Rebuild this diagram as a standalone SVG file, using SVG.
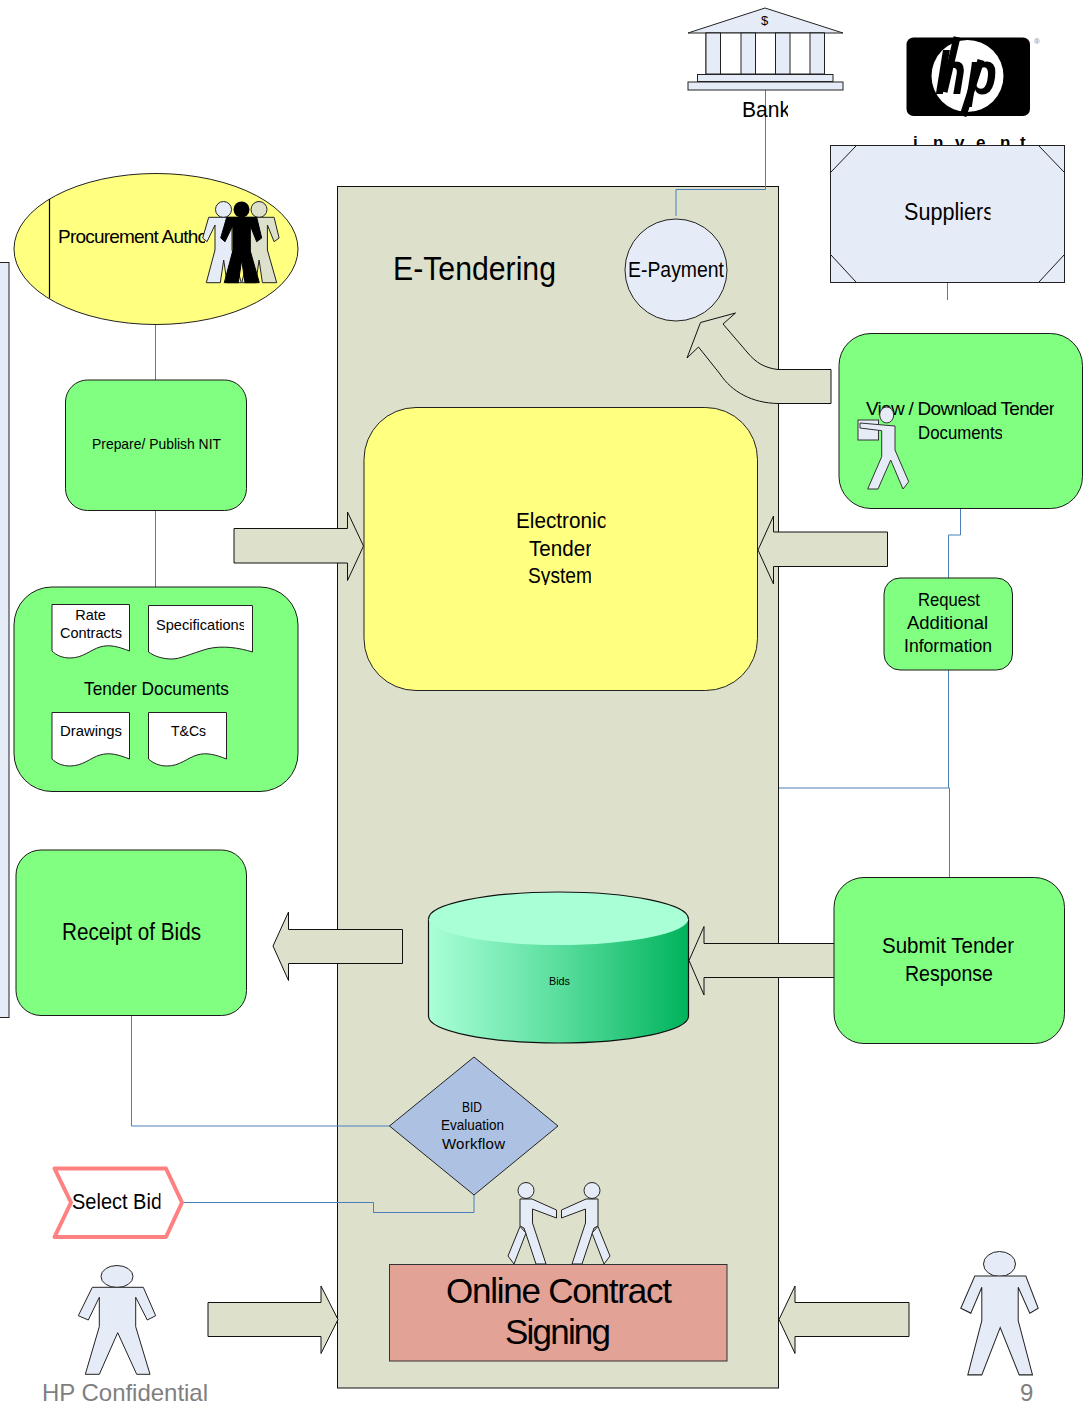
<svg xmlns="http://www.w3.org/2000/svg" width="1090" height="1405" viewBox="0 0 1090 1405">
<style>
text{font-family:"Liberation Sans",Arial,sans-serif;fill:#000}
.s{stroke:#1a1a1a;stroke-width:1}
.g{fill:#80ff80;stroke:#1a1a1a;stroke-width:1}
.b{fill:#e6ecf7;stroke:#222;stroke-width:1}
.a{fill:#dde1cb;stroke:#111;stroke-width:1}
.c{fill:none;stroke:#4a7ebb;stroke-width:1}
.d{fill:#fff;stroke:#222;stroke-width:1}
.n{vector-effect:non-scaling-stroke}
</style>
<defs>
<linearGradient id="cyl" x1="0" x2="1" y1="0" y2="0">
<stop offset="0" stop-color="#aaffd8"/><stop offset=".5" stop-color="#5ade9e"/><stop offset="1" stop-color="#00b35c"/>
</linearGradient>
<polygon id="team" points="226.7,217.3 256.7,217.3 261.7,238 256.7,241.7 250,225 250,250 259.3,282.7 245,282.7 241.7,260 238.3,282.7 224.3,282.7 233,250 233,225 225,241.7 220.7,238"/>
<polygon id="actor" points="92.3,1287.3 143.3,1287.3 155.7,1315.7 147.3,1320 135.7,1297.3 135.7,1326.7 150,1374.3 136.7,1374.3 117.7,1332.7 99.3,1374.3 85.3,1374.3 99.3,1326.7 99.3,1297.3 88.3,1320 78.3,1315.7"/>
<clipPath id="c1"><rect x="740" y="95" width="48" height="30"/></clipPath>
<clipPath id="c2"><rect x="900" y="195" width="90.500" height="35"/></clipPath>
<clipPath id="c3"><rect x="50" y="220" width="155" height="30"/></clipPath>
<clipPath id="c4"><rect x="510" y="505" width="95.500" height="25"/></clipPath>
<clipPath id="c5"><rect x="510" y="533" width="81" height="52"/></clipPath>
<clipPath id="c6"><rect x="860" y="395" width="194" height="24"/></clipPath>
<clipPath id="c7"><rect x="910" y="420" width="92" height="24"/></clipPath>
<clipPath id="c8"><rect x="900" y="588" width="92" height="70"/></clipPath>
<clipPath id="c9"><rect x="150" y="615" width="94" height="22"/></clipPath>
<clipPath id="c10"><rect x="60" y="915" width="141" height="32"/></clipPath>
<clipPath id="c11"><rect x="875" y="930" width="139" height="30"/></clipPath>
<clipPath id="c12"><rect x="900" y="960" width="93" height="30"/></clipPath>
<clipPath id="c13"><rect x="540" y="970" width="30" height="20"/></clipPath>
<clipPath id="c14"><rect x="440" y="1098" width="42" height="18"/></clipPath>
<clipPath id="c15"><rect x="440" y="1117" width="64" height="18"/></clipPath>
<clipPath id="c16"><rect x="70" y="1188" width="90.500" height="28"/></clipPath>
<clipPath id="c17"><rect x="85" y="434" width="136" height="20"/></clipPath>
<clipPath id="c18"><rect x="910" y="133" width="120" height="13"/></clipPath>
</defs>

<rect id="left-panel" x="-5" y="262.500" width="14" height="755" class="b"/>
<g id="etendering-panel">
<rect x="337.500" y="186.500" width="441" height="1201.500" fill="#dde1cb" stroke="#111"/>
<text x="393" y="280" font-size="34" textLength="163" lengthAdjust="spacingAndGlyphs">E-Tendering</text>
</g>

<g id="connectors">
<path class="c" d="M765.500 90V189.500H676V216"/>
<path class="c" d="M947.500 282V300"/>
<path class="c" d="M155.500 325V380"/>
<path class="c" d="M155.500 510V587"/>
<path class="c" d="M960.500 508V535H948.500V578"/>
<path class="c" d="M948.500 670V788H779"/>
<path class="c" d="M948.500 788H949.500V877"/>
<path class="c" d="M131.500 1015V1126H390"/>
<path class="c" d="M182 1202.500H373.500V1212.500H474V1195"/>
</g>

<g id="bank">
<polygon class="b" points="688,33 765,8 843,33"/>
<rect class="d" x="706" y="33" width="118" height="41"/>
<rect class="b" x="706" y="33" width="14.500" height="41"/>
<rect class="b" x="741" y="33" width="14.500" height="41"/>
<rect class="b" x="775.500" y="33" width="14.500" height="41"/>
<rect class="b" x="810" y="33" width="14.500" height="41"/>
<rect class="b" x="697.500" y="74.500" width="135.500" height="7"/>
<rect class="b" x="688" y="82" width="155" height="8"/>
<text x="764.500" y="25" font-size="13" text-anchor="middle">$</text>
<text x="742" y="117" font-size="22" textLength="48" lengthAdjust="spacingAndGlyphs" clip-path="url(#c1)">Bank</text>
</g>

<g id="hp-logo">
<rect x="906.500" y="37.500" width="123.500" height="78.500" rx="7" fill="#000"/>
<circle cx="967.500" cy="76" r="36" fill="#fff"/>
<text x="935" y="94" font-size="62" font-weight="bold" font-style="italic" textLength="62" lengthAdjust="spacingAndGlyphs">hp</text>
<path d="M957 37L944 92M981 60L963 116" stroke="#000" stroke-width="7" fill="none"/>
<text x="1037" y="44" font-size="8" fill="#777" text-anchor="middle" style="fill:#888">®</text>
<text y="148" font-size="17" font-weight="bold" x="913 933 955 976 1000 1020" clip-path="url(#c18)">invent</text>
</g>

<g id="suppliers">
<rect class="b" x="830.500" y="145.500" width="234" height="137"/>
<path class="s" fill="none" d="M856 146L831 172M1039 146L1064 172M831 255L856 282M1039 282L1064 255"/>
<text x="904" y="220" font-size="23" textLength="90" lengthAdjust="spacingAndGlyphs" clip-path="url(#c2)">Suppliers</text>
</g>

<g id="procurement-authority">
<ellipse cx="156" cy="249" rx="142" ry="75.500" fill="#ffff80" stroke="#222"/>
<path d="M49.500 199V298" stroke="#000" stroke-width="1.200"/>
<text x="58" y="243" font-size="19" textLength="150" lengthAdjust="spacing" clip-path="url(#c3)">Procurement Autho</text>
<circle cx="259" cy="209.500" r="8" fill="#dde1cb" stroke="#222"/>
<use href="#team" x="17.400" fill="#dde1cb" stroke="#222"/>
<circle cx="223.500" cy="209.500" r="8" fill="#e6ecf7" stroke="#222"/>
<use href="#team" x="-18" fill="#e6ecf7" stroke="#222"/>
<circle cx="241.500" cy="209.500" r="8" fill="#000"/>
<use href="#team" fill="#000" stroke="#000"/>
</g>

<g id="prepare-publish-nit">
<rect class="g" x="65.500" y="380" width="181" height="130.500" rx="22"/>
<text x="92" y="449" font-size="15" textLength="129" lengthAdjust="spacingAndGlyphs" clip-path="url(#c17)">Prepare/ Publish NIT</text>
</g>

<g id="tender-documents">
<rect class="g" x="14" y="587" width="284" height="204.500" rx="38"/>
<path class="d" d="M52 604.500H129.500V651C119 647 110 644 100 647C90 650 83 658 70 658C62 658 56 655 52 651Z"/>
<path class="d" d="M148.500 605.500H252.500V652C240 648 222 645 207 649C190 654 180 659 172 659C162 659 154 656 148.500 652Z"/>
<path class="d" d="M52 712.500H129.500V759C119 755 110 752 100 755C90 758 83 766 70 766C62 766 56 763 52 759Z"/>
<path class="d" d="M148.500 712.500H226.500V759C216 755 207 752 197 755C187 758 180 766 167 766C159 766 153 763 148.500 759Z"/>
<text x="90.500" y="620" font-size="14.500" text-anchor="middle">Rate</text>
<text x="60" y="638" font-size="15" textLength="62" lengthAdjust="spacingAndGlyphs">Contracts</text>
<text x="156" y="630" font-size="15" textLength="90" lengthAdjust="spacingAndGlyphs" clip-path="url(#c9)">Specifications</text>
<text x="84" y="695" font-size="19" textLength="145" lengthAdjust="spacingAndGlyphs">Tender Documents</text>
<text x="60" y="736" font-size="15.500" textLength="62" lengthAdjust="spacingAndGlyphs">Drawings</text>
<text x="171" y="736" font-size="15.500" textLength="35" lengthAdjust="spacingAndGlyphs">T&amp;Cs</text>
</g>

<g id="receipt-of-bids">
<rect class="g" x="16" y="850" width="230.500" height="165.500" rx="25"/>
<text x="62" y="940" font-size="23" textLength="139" lengthAdjust="spacingAndGlyphs" clip-path="url(#c10)">Receipt of Bids</text>
</g>

<g id="arrows">
<polygon class="a" points="234,528.500 347.500,528.500 347.500,512 363.500,546 347.500,580.500 347.500,563 234,563"/>
<polygon class="a" points="887.500,532 773.500,532 773.500,516 758,550 773.500,584 773.500,566.500 887.500,566.500"/>
<polygon class="a" points="402.500,929.500 288.500,929.500 288.500,912 273,946 288.500,980.500 288.500,963.500 402.500,963.500"/>
<polygon class="a" points="845,943.500 704,943.500 704,926.500 689,960.500 704,995 704,977.500 845,977.500"/>
<polygon class="a" points="208,1302.500 321,1302.500 321,1286 338,1319.500 321,1353.500 321,1336.500 208,1336.500"/>
<polygon class="a" points="909,1302.500 795,1302.500 795,1286 779,1319.500 795,1353.500 795,1336.500 909,1336.500"/>
<path class="a" d="M831 369.500H778C765 368 756 363 747 352L723 324L735.500 313L700.500 322.500L687 358L698.500 347L720 374C732 392 752 403 778 403.500H831Z"/>
</g>

<g id="e-payment">
<circle cx="676" cy="270" r="51" fill="#e6ecf7" stroke="#222"/>
<text x="628" y="277" font-size="22" textLength="96" lengthAdjust="spacingAndGlyphs">E-Payment</text>
</g>

<g id="electronic-tender-system">
<rect x="364" y="407.500" width="393.500" height="283" rx="52" fill="#ffff80" stroke="#222"/>
<text x="516" y="528" font-size="22" textLength="91" lengthAdjust="spacingAndGlyphs" clip-path="url(#c4)">Electronic</text>
<text x="529" y="556" font-size="22" textLength="63" lengthAdjust="spacingAndGlyphs" clip-path="url(#c5)">Tender</text>
<text x="528" y="583" font-size="22" textLength="64" lengthAdjust="spacingAndGlyphs" clip-path="url(#c5)">System</text>
</g>

<g id="view-download">
<rect class="g" x="839" y="333.500" width="243.500" height="175" rx="32"/>
<text x="866" y="415" font-size="19" textLength="189" lengthAdjust="spacing" clip-path="url(#c6)">View / Download Tender</text>
<text x="918" y="439" font-size="19" textLength="85" lengthAdjust="spacingAndGlyphs" clip-path="url(#c7)">Documents</text>
<rect x="858" y="420" width="20.500" height="20" fill="#e6ecf7" stroke="#333"/>
<polygon points="860,423 895,426 895,450 908.700,481.700 903,489 890.700,460 878,489 867.700,489 881.700,456.700 881.700,430.700 860,428" fill="#e6ecf7" stroke="#333"/>
<ellipse cx="886.700" cy="415" rx="7" ry="8" fill="#e6ecf7" stroke="#333"/>
</g>

<g id="request-info">
<rect class="g" x="884" y="578" width="128.500" height="92" rx="16"/>
<text x="918" y="606" font-size="18.500" textLength="62" lengthAdjust="spacingAndGlyphs">Request</text>
<text x="907" y="629" font-size="18.500" textLength="81" lengthAdjust="spacingAndGlyphs" clip-path="url(#c8)">Additional</text>
<text x="904" y="652" font-size="18.500" textLength="88" lengthAdjust="spacingAndGlyphs" clip-path="url(#c8)">Information</text>
</g>

<g id="bids-db">
<path d="M428.500 919V1016C428.500 1031 487 1043 558.500 1043C630 1043 688.500 1031 688.500 1016V919Z" fill="url(#cyl)" stroke="#111" stroke-width="1.200"/>
<ellipse cx="558.500" cy="918.500" rx="130" ry="26.500" fill="#a9ffd6"/>
<path d="M428.500 919C428.500 904 487 892 558.500 892C630 892 688.500 904 688.500 919" fill="none" stroke="#111" stroke-width="1.200"/>
<text x="549" y="985" font-size="11" textLength="21" lengthAdjust="spacingAndGlyphs" clip-path="url(#c13)">Bids</text>
</g>

<g id="submit-response">
<rect class="g" x="834" y="877.500" width="230.500" height="166" rx="30"/>
<text x="882" y="953" font-size="22.500" textLength="132" lengthAdjust="spacingAndGlyphs" clip-path="url(#c11)">Submit Tender</text>
<text x="905" y="981" font-size="22.500" textLength="88" lengthAdjust="spacingAndGlyphs" clip-path="url(#c12)">Response</text>
</g>

<g id="bid-evaluation">
<polygon points="389.500,1126 474,1057 558,1126 474,1195" fill="#adc2e2" stroke="#222"/>
<text x="462" y="1112" font-size="15" textLength="20" lengthAdjust="spacingAndGlyphs" clip-path="url(#c14)">BID</text>
<text x="441" y="1130" font-size="15" textLength="63" lengthAdjust="spacingAndGlyphs" clip-path="url(#c15)">Evaluation</text>
<text x="442" y="1149" font-size="15" textLength="63" lengthAdjust="spacing">Workflow</text>
</g>

<g id="select-bid">
<polygon points="54.500,1168.500 166,1168.500 182,1202.500 166,1237 54.500,1237 71,1202.500" fill="#fff" stroke="#ff8080" stroke-width="4" stroke-linejoin="round"/>
<text x="72" y="1209" font-size="22" textLength="90" lengthAdjust="spacingAndGlyphs" clip-path="url(#c16)">Select Bid</text>
</g>

<g id="handshake">
<circle cx="526" cy="1190.500" r="8" class="b"/>
<polygon class="b" points="520,1199 532,1199 556.500,1210 556.500,1218 532.500,1209 532.500,1223 546,1264 536,1264 524,1228 520,1226"/>
<polygon class="b" points="520,1226.500 526,1233 514,1264 508,1256"/>
<circle cx="592" cy="1190.500" r="8" class="b"/>
<polygon class="b" points="598,1199 586,1199 561.500,1210 561.500,1218 585.500,1209 585.500,1223 572,1264 582,1264 594,1228 598,1226"/>
<polygon class="b" points="598,1226.500 592,1233 604,1264 610,1256"/>
</g>

<g id="online-contract-signing">
<rect x="389.500" y="1264.500" width="337.500" height="96.500" fill="#e3a296" stroke="#333"/>
<text x="446" y="1303" font-size="35" textLength="226" lengthAdjust="spacing">Online Contract</text>
<text x="505" y="1344" font-size="35" textLength="106" lengthAdjust="spacing">Signing</text>
</g>

<g id="actor-left">
<ellipse cx="117" cy="1276.500" rx="16" ry="11" class="b"/>
<use href="#actor" class="b"/>
</g>
<g id="actor-right">
<ellipse cx="999.500" cy="1264" rx="16" ry="12.500" class="b"/>
<use href="#actor" transform="matrix(1 0 0 1.137 882.500 -187.700)" fill="#e6ecf7" stroke="#222" style="vector-effect:non-scaling-stroke"/>
</g>

<g id="footer">
<text x="42" y="1401" font-size="24" style="fill:#7f7f7f" textLength="166" lengthAdjust="spacing">HP Confidential</text>
<text x="1020" y="1401" font-size="24" style="fill:#7f7f7f">9</text>
</g>
</svg>
